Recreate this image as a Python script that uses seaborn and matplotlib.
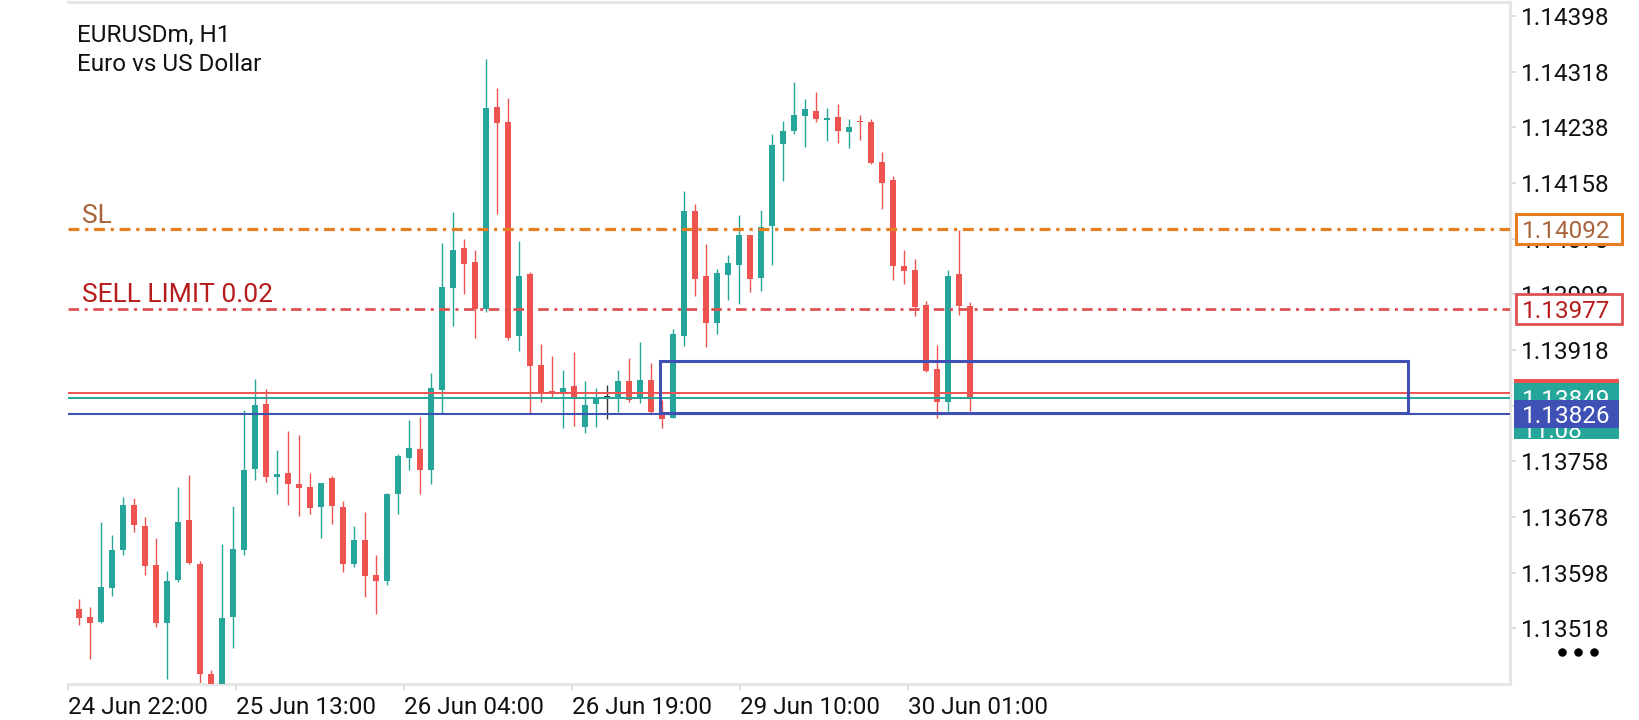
import numpy as np
import pandas as pd
import matplotlib
matplotlib.use("Agg")
import matplotlib.pyplot as plt
import matplotlib.patches as patches
import seaborn as sns

# ---- chart data (EURUSDm H1) ----
opens = [1.13546, 1.13534, 1.13527, 1.13576, 1.13630, 1.13695, 1.13665, 1.13609, 1.13526, 1.13588,
         1.13673, 1.13610, 1.13452, 1.13427, 1.13534, 1.13631, 1.13747, 1.13840, 1.13736, 1.13741,
         1.13725, 1.13721, 1.13692, 1.13734, 1.13692, 1.13610, 1.13645, 1.13595, 1.13586, 1.13711,
         1.13763, 1.13776, 1.13746, 1.13860, 1.14007, 1.14065, 1.14045, 1.13977, 1.14267, 1.14246,
         1.13938, 1.14027, 1.13896, 1.13859, 1.13855, 1.13866, 1.13807, 1.13840, 1.13850, 1.13849,
         1.13874, 1.13849, 1.13875, 1.13826, 1.13820, 1.13938, 1.14118, 1.14024, 1.13957, 1.14026,
         1.14040, 1.14083, 1.14022, 1.14096, 1.14214, 1.14233, 1.14254, 1.14261, 1.14248, 1.14253,
         1.14231, 1.14247, 1.14246, 1.14188, 1.14162, 1.14039, 1.14033, 1.13983, 1.13891, 1.13843,
         1.14027, 1.13981]
highs = [1.13560, 1.13549, 1.13671, 1.13652, 1.13707, 1.13705, 1.13678, 1.13648, 1.13600, 1.13721,
         1.13738, 1.13615, 1.13458, 1.13639, 1.13694, 1.13832, 1.13876, 1.13862, 1.13774, 1.13802,
         1.13796, 1.13741, 1.13727, 1.13737, 1.13701, 1.13665, 1.13685, 1.13623, 1.13713, 1.13769,
         1.13818, 1.13822, 1.13885, 1.14072, 1.14116, 1.14078, 1.14062, 1.14336, 1.14295, 1.14280,
         1.14075, 1.14030, 1.13927, 1.13909, 1.13889, 1.13915, 1.13874, 1.13863, 1.13868, 1.13889,
         1.13907, 1.13930, 1.13899, 1.13846, 1.13948, 1.14146, 1.14128, 1.14070, 1.14034, 1.14055,
         1.14112, 1.14083, 1.14119, 1.14228, 1.14247, 1.14303, 1.14279, 1.14289, 1.14266, 1.14272,
         1.14250, 1.14256, 1.14250, 1.14203, 1.14168, 1.14062, 1.14049, 1.13988, 1.13925, 1.14033,
         1.14090, 1.13987]
lows = [1.13523, 1.13474, 1.13526, 1.13564, 1.13623, 1.13657, 1.13594, 1.13520, 1.13445, 1.13584,
        1.13611, 1.13435, 1.13415, 1.13419, 1.13490, 1.13623, 1.13731, 1.13728, 1.13711, 1.13695,
        1.13680, 1.13682, 1.13648, 1.13668, 1.13599, 1.13606, 1.13563, 1.13539, 1.13580, 1.13682,
        1.13746, 1.13711, 1.13726, 1.13827, 1.13953, 1.13999, 1.13935, 1.13973, 1.14114, 1.13932,
        1.13917, 1.13826, 1.13843, 1.13850, 1.13806, 1.13809, 1.13799, 1.13807, 1.13819, 1.13829,
        1.13843, 1.13842, 1.13828, 1.13806, 1.13820, 1.13924, 1.13996, 1.13922, 1.13941, 1.13990,
        1.13984, 1.14001, 1.14003, 1.14040, 1.14161, 1.14228, 1.14210, 1.14246, 1.14218, 1.14215,
        1.14208, 1.14220, 1.14185, 1.14121, 1.14018, 1.14013, 1.13967, 1.13886, 1.13820, 1.13830,
        1.13968, 1.13830]
closes = [1.13533, 1.13526, 1.13577, 1.13631, 1.13695, 1.13667, 1.13608, 1.13525, 1.13586, 1.13671,
          1.13612, 1.13452, 1.13427, 1.13533, 1.13632, 1.13746, 1.13839, 1.13736, 1.13740, 1.13726,
          1.13720, 1.13691, 1.13727, 1.13694, 1.13610, 1.13645, 1.13593, 1.13586, 1.13711, 1.13766,
          1.13777, 1.13746, 1.13863, 1.14009, 1.14062, 1.14042, 1.13977, 1.14266, 1.14244, 1.13935,
          1.14024, 1.13895, 1.13856, 1.13856, 1.13863, 1.13848, 1.13839, 1.13850, 1.13850, 1.13874,
          1.13846, 1.13875, 1.13829, 1.13819, 1.13941, 1.14118, 1.14020, 1.13957, 1.14029, 1.14043,
          1.14083, 1.14020, 1.14095, 1.14213, 1.14233, 1.14256, 1.14264, 1.14250, 1.14252, 1.14233,
          1.14238, 1.14245, 1.14187, 1.14158, 1.14039, 1.14032, 1.13980, 1.13888, 1.13843, 1.14024,
          1.13981, 1.13848]

time_labels = ["24 Jun 22:00", "25 Jun 13:00", "26 Jun 04:00",
               "26 Jun 19:00", "29 Jun 10:00", "30 Jun 01:00"]
price_ticks = [1.13518, 1.13598, 1.13678, 1.13758, 1.13838, 1.13918,
               1.13998, 1.14078, 1.14158, 1.14238, 1.14318, 1.14398]

sl_price = 1.14092
sell_limit_price = 1.13977
ask_price = 1.13856
bid_price = 1.13849
level_price = 1.13826
timer_text = "11:08"
# drawn rectangle: (start bar, end bar, low price, high price)
rect_bars = [52.8, 120.8]
rect_prices = [1.13828, 1.13902]

# ---- styling ----
sns.set_theme(style="white")
plt.rcParams['font.family'] = ['Roboto', 'DejaVu Sans']

UP = '#26a69a'
DOWN = '#ef5350'
BLUE = '#3f51b5'
SL_COL = '#e67e22'
SL_TXT = '#a9643a'
SELL_COL = '#e05252'
SELL_TXT = '#b71c1c'
FRAME = '#e6e6e6'
FS = 17.5

df = pd.DataFrame({'open': opens, 'high': highs, 'low': lows, 'close': closes})
df['bar'] = np.arange(len(df))
df['color'] = np.where(df['close'] > df['open'], UP,
                       np.where(df['close'] < df['open'], DOWN, '#333333'))

W, H = 1640, 720
fig = plt.figure(figsize=(W / 100, H / 100), dpi=100)
fig.patch.set_facecolor('white')
ax = fig.add_axes([68 / W, 1 - 684 / H, (1510 - 68) / W, (684 - 2) / H])
ax.set_facecolor('white')

# candles: wicks then bodies
ax.vlines(df['bar'], df['low'], df['high'], colors=df['color'], lw=1.0, zorder=2)
body_lo = df[['open', 'close']].min(axis=1)
body_h = (df['close'] - df['open']).abs().clip(lower=0.000012)
ax.bar(df['bar'], body_h, bottom=body_lo, width=0.55, color=df['color'],
       linewidth=0, zorder=3)

# horizontal levels
ax.axhline(sl_price, color=SL_COL, lw=2.3, ls=(0, (3.4, 1.8, 1.0, 1.8)), zorder=4)
ax.axhline(sell_limit_price, color=SELL_COL, lw=2.0, ls=(0, (3.8, 2.0, 1.1, 2.0)), zorder=4)
ax.axhline(ask_price, color=DOWN, lw=1.4, zorder=4)
ax.axhline(bid_price, color=UP, lw=1.4, zorder=4)
ax.axhline(level_price, color=BLUE, lw=1.5, zorder=4)
ax.add_patch(patches.Rectangle((rect_bars[0], rect_prices[0]),
                               rect_bars[1] - rect_bars[0],
                               rect_prices[1] - rect_prices[0],
                               fill=False, edgecolor=BLUE, lw=2.2, zorder=5))

ax.set_xlim(-1.0, 130.09)
ax.set_ylim(1.13438, 1.14418)

# axes frame
for side in ['top', 'right', 'bottom']:
    ax.spines[side].set_visible(True)
    ax.spines[side].set_color(FRAME)
    ax.spines[side].set_linewidth(2.2)
ax.spines['left'].set_visible(False)

ax.yaxis.tick_right()
ax.set_yticks(price_ticks)
ax.set_yticklabels([f"{p:.5f}" for p in price_ticks])
label_step = 168 / 11
ax.set_xticks([-1 + i * label_step for i in range(len(time_labels))])
ax.set_xticklabels(time_labels, ha='left')
ax.tick_params(axis='both', colors='#d5d5d5', labelcolor='#111111',
               labelsize=FS, length=4, width=1.2)
ax.tick_params(axis='y', pad=4, right=True, left=False)
ax.tick_params(axis='x', pad=5, bottom=True)
ax.grid(False)

# overlay in pixel coordinates for the price boxes and header
ov = fig.add_axes([0, 0, 1, 1], zorder=5)
ov.set_xlim(0, W)
ov.set_ylim(H, 0)
ov.axis('off')
ov.patch.set_visible(False)


def py(price):
    return H - ax.transData.transform((0, price))[1]


# order labels just above their lines
ov.text(82, py(sl_price) - 6, "SL", color=SL_TXT, fontsize=19, va='baseline')
ov.text(82, py(sell_limit_price) - 7, "SELL LIMIT 0.02", color=SELL_TXT,
        fontsize=19, va='baseline')

layer = [10]


def price_box(price, x0, x1, h, face, edge, txt, tcolor, lw=0, top=None):
    z = layer[0]
    layer[0] += 1
    yc = py(price)
    y0 = yc - h / 2 if top is None else yc + top
    ov.add_patch(patches.Rectangle((x0, y0), x1 - x0, h, facecolor=face,
                                   edgecolor=edge, lw=lw, zorder=z))
    if txt:
        ov.text(1522, yc, txt, color=tcolor, fontsize=FS, va='center_baseline',
                ha='left', zorder=z + 0.5)
    return z


price_box(sl_price, 1516, 1622, 30, 'white', SL_COL, f"{sl_price:.5f}", SL_TXT, lw=2.2)
price_box(sell_limit_price, 1516, 1622, 30, 'white', SELL_COL, f"{sell_limit_price:.5f}",
          SELL_TXT, lw=2.0)
price_box(ask_price, 1514, 1619, 28, DOWN, DOWN, None, 'white')
zg = price_box(bid_price, 1514, 1619, 56, UP, UP, f"{bid_price:.5f}", 'white', top=-15)
ov.text(1522, py(bid_price) + 31, timer_text, color='white', fontsize=FS,
        va='center_baseline', zorder=zg + 0.5)
price_box(level_price, 1514, 1619, 28, BLUE, BLUE, f"{level_price:.5f}", 'white')

ov.text(77, 42, "EURUSDm, H1", color='#111111', fontsize=FS, va='baseline')
ov.text(77, 71, "Euro vs US Dollar", color='#111111', fontsize=FS, va='baseline')
ov.scatter([1562, 1578, 1594], [652, 652, 652], s=26, color='black')

fig.savefig("out.png", dpi=100)
